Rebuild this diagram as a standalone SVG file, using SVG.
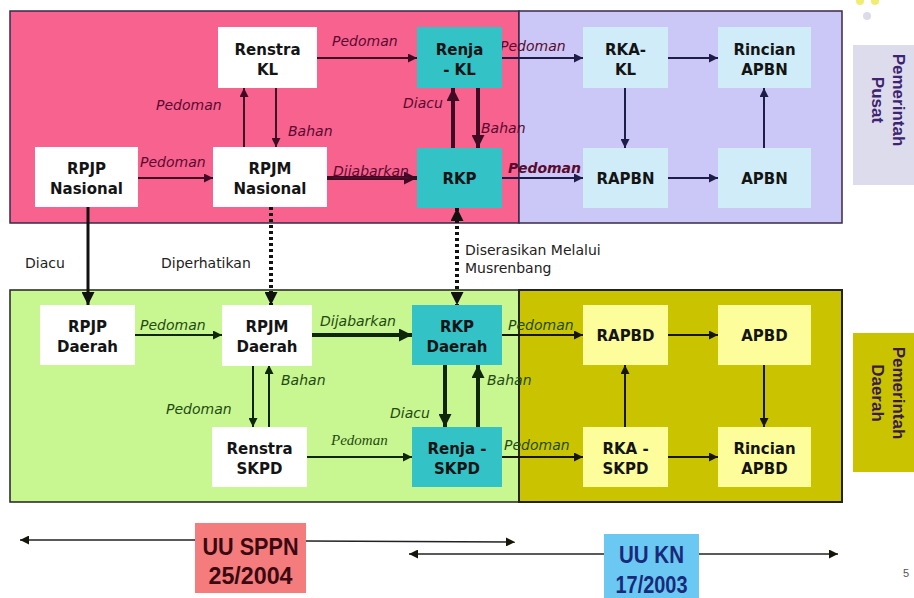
<svg xmlns="http://www.w3.org/2000/svg" width="914" height="598" viewBox="0 0 914 598">
<defs>
<style>
.nd{font-family:"DejaVu Sans","Verdana",sans-serif;font-weight:bold;font-size:15px;fill:#141414;text-anchor:middle}
.lbm{font-family:"DejaVu Sans",sans-serif;font-style:italic;font-size:14px;fill:#5a0a2e}
.lbg{font-family:"DejaVu Sans",sans-serif;font-style:italic;font-size:14px;fill:#1f4a12}
.lbn{font-family:"DejaVu Sans",sans-serif;font-size:14px;fill:#222}
.w{fill:#ffffff}
.t{fill:#33c2c6}
.b{fill:#d0ecf8}
.y{fill:#fdfd9c}
.cm{stroke:#3e0b22;fill:none}
.cn{stroke:#1e1c48;fill:none}
.cg{stroke:#0e260a;fill:none}
.ck{stroke:#161608;fill:none}
.th{stroke-width:2}
.tk{stroke-width:4}
.dt{stroke:#111;stroke-width:4;stroke-dasharray:3 3;fill:none}
.vt{font-family:"Liberation Sans",Arial,sans-serif;font-weight:bold;font-size:17px;text-anchor:middle}
</style>
<marker id="hm" viewBox="0 0 10 10" refX="10" refY="5" markerUnits="userSpaceOnUse" markerWidth="10" markerHeight="9" orient="auto-start-reverse"><path d="M0,0L10,5L0,10z" fill="#3e0b22"/></marker>
<marker id="hmk" viewBox="0 0 10 10" refX="10" refY="5" markerUnits="userSpaceOnUse" markerWidth="13" markerHeight="13" orient="auto-start-reverse"><path d="M0,0L10,5L0,10z" fill="#3e0b22"/></marker>
<marker id="hn" viewBox="0 0 10 10" refX="10" refY="5" markerUnits="userSpaceOnUse" markerWidth="10" markerHeight="9" orient="auto-start-reverse"><path d="M0,0L10,5L0,10z" fill="#1e1c48"/></marker>
<marker id="hg" viewBox="0 0 10 10" refX="10" refY="5" markerUnits="userSpaceOnUse" markerWidth="10" markerHeight="9" orient="auto-start-reverse"><path d="M0,0L10,5L0,10z" fill="#0e260a"/></marker>
<marker id="hgk" viewBox="0 0 10 10" refX="10" refY="5" markerUnits="userSpaceOnUse" markerWidth="13" markerHeight="13" orient="auto-start-reverse"><path d="M0,0L10,5L0,10z" fill="#0e260a"/></marker>
<marker id="hk" viewBox="0 0 10 10" refX="10" refY="5" markerUnits="userSpaceOnUse" markerWidth="10" markerHeight="9" orient="auto-start-reverse"><path d="M0,0L10,5L0,10z" fill="#161608"/></marker>
<marker id="hkk" viewBox="0 0 10 10" refX="10" refY="5" markerUnits="userSpaceOnUse" markerWidth="13" markerHeight="13" orient="auto-start-reverse"><path d="M0,0L10,5L0,10z" fill="#111"/></marker>
</defs>
<rect width="914" height="598" fill="#ffffff"/>

<g id="decor">
<circle cx="860" cy="1" r="4" fill="#f0ee70"/>
<circle cx="875" cy="1" r="4" fill="#f0ee70"/>
<circle cx="867" cy="16" r="4" fill="#dcdce6"/>
</g>

<g id="regions">
<rect x="10" y="11" width="509" height="212" fill="#f7628f" stroke="#3a2a4a" stroke-width="1.5"/>
<rect x="519" y="11" width="323" height="212" fill="#cbc7f6" stroke="#3a2a4a" stroke-width="1.5"/>
<rect x="10" y="290" width="509" height="212" fill="#c8f690" stroke="#222" stroke-width="1.5"/>
<rect x="519" y="290" width="323" height="212" fill="#cac400" stroke="#222" stroke-width="2"/>
</g>

<g id="side-pusat">
<rect x="853" y="45" width="61" height="140" fill="#dddcec"/>
<g transform="translate(890,100) rotate(90)">
<text class="vt" x="0" y="-3" fill="#3e2470">Pemerintah</text>
<text class="vt" x="0" y="18" fill="#3e2470">Pusat</text>
</g>
</g>
<g id="side-daerah">
<rect x="853" y="333" width="61" height="139" fill="#cac400"/>
<g transform="translate(890,393) rotate(90)">
<text class="vt" x="0" y="-3" fill="#3a1a4a">Pemerintah</text>
<text class="vt" x="0" y="18" fill="#3a1a4a">Daerah</text>
</g>
</g>

<g id="connectors">
<line class="cm th" x1="317" y1="58" x2="417" y2="58" marker-end="url(#hm)"/>
<line class="cm th" x1="244" y1="147" x2="244" y2="88" marker-end="url(#hm)"/>
<line class="cm th" x1="276" y1="88" x2="276" y2="147" marker-end="url(#hm)"/>
<line class="cm th" x1="138" y1="178" x2="213" y2="178" marker-end="url(#hm)"/>
<line class="cm tk" x1="327" y1="178" x2="417" y2="178" marker-end="url(#hmk)"/>
<line class="cm tk" x1="453" y1="148" x2="453" y2="88" marker-end="url(#hmk)"/>
<line class="cm tk" x1="478" y1="88" x2="478" y2="148" marker-end="url(#hmk)"/>
<line class="cn th" x1="502" y1="58" x2="583" y2="58" marker-end="url(#hn)"/>
<line class="cn th" x1="502" y1="178" x2="583" y2="178" marker-end="url(#hn)"/>
<line class="cn th" x1="668" y1="58" x2="718" y2="58" marker-end="url(#hn)"/>
<line class="cn th" x1="625" y1="88" x2="625" y2="148" marker-end="url(#hn)"/>
<line class="cn th" x1="668" y1="178" x2="718" y2="178" marker-end="url(#hn)"/>
<line class="cn th" x1="764" y1="148" x2="764" y2="88" marker-end="url(#hn)"/>
<line stroke="#111" stroke-width="3" x1="88" y1="207" x2="88" y2="305" marker-end="url(#hkk)"/>
<line class="dt" x1="271" y1="207" x2="271" y2="305" marker-end="url(#hkk)"/>
<line class="dt" x1="457" y1="208" x2="457" y2="305" marker-start="url(#hkk)" marker-end="url(#hkk)"/>
<line class="cg th" x1="135" y1="335" x2="222" y2="335" marker-end="url(#hg)"/>
<line class="cg tk" x1="312" y1="335" x2="412" y2="335" marker-end="url(#hgk)"/>
<line class="cg th" x1="253" y1="365" x2="253" y2="427" marker-end="url(#hg)"/>
<line class="cg th" x1="269" y1="427" x2="269" y2="365" marker-end="url(#hg)"/>
<line class="cg tk" x1="445" y1="365" x2="445" y2="427" marker-end="url(#hgk)"/>
<line class="cg tk" x1="478" y1="427" x2="478" y2="365" marker-end="url(#hgk)"/>
<line class="cg th" x1="307" y1="457" x2="412" y2="457" marker-end="url(#hg)"/>
<line class="ck th" x1="502" y1="335" x2="583" y2="335" marker-end="url(#hk)"/>
<line class="ck th" x1="502" y1="457" x2="583" y2="457" marker-end="url(#hk)"/>
<line class="ck th" x1="668" y1="335" x2="718" y2="335" marker-end="url(#hk)"/>
<line class="ck th" x1="625" y1="427" x2="625" y2="365" marker-end="url(#hk)"/>
<line class="ck th" x1="764" y1="365" x2="764" y2="427" marker-end="url(#hk)"/>
<line class="ck th" x1="668" y1="457" x2="718" y2="457" marker-end="url(#hk)"/>
<line stroke="#222" stroke-width="1.5" x1="195" y1="540" x2="20" y2="540" marker-end="url(#hk)"/>
<line stroke="#222" stroke-width="1.5" x1="306" y1="541" x2="515" y2="542" marker-end="url(#hk)"/>
<line stroke="#222" stroke-width="1.5" x1="604" y1="554" x2="409" y2="554" marker-end="url(#hk)"/>
<line stroke="#222" stroke-width="1.5" x1="699" y1="554" x2="838" y2="554" marker-end="url(#hk)"/>
</g>

<g id="labels">
<text class="lbm" x="332" y="46" font-size="12.5">Pedoman</text>
<text class="lbm" x="156" y="110" font-size="15.5">Pedoman</text>
<text class="lbm" x="288" y="136">Bahan</text>
<text class="lbm" x="140" y="167" font-size="15.5">Pedoman</text>
<text class="lbm" x="333" y="176" font-size="15.5" text-decoration="underline">Dijabarkan</text>
<text class="lbm" x="403" y="108" font-size="15.5">Diacu</text>
<text class="lbm" x="481" y="133">Bahan</text>
<text class="lbm" x="500" y="51" font-size="15">Pedoman</text>
<text class="lbm" x="508" y="173" font-size="15.5" font-weight="bold" fill="#4a0a2a">Pedoman</text>
<text class="lbn" x="25" y="268">Diacu</text>
<text class="lbn" x="161" y="268">Diperhatikan</text>
<text class="lbn" x="465" y="255">Diserasikan Melalui</text>
<text class="lbn" x="465" y="273">Musrenbang</text>
<text class="lbg" x="140" y="330" font-size="15.5">Pedoman</text>
<text class="lbg" x="320" y="326" font-size="15.5">Dijabarkan</text>
<text class="lbg" x="166" y="414" font-size="15.5">Pedoman</text>
<text class="lbg" x="281" y="385">Bahan</text>
<text class="lbg" x="390" y="418" font-size="15.5">Diacu</text>
<text class="lbg" x="487" y="385">Bahan</text>
<text x="331" y="445" font-family="'Liberation Serif','Times New Roman',serif" font-style="italic" font-size="15" fill="#1f4a12">Pedoman</text>
<text class="lbg" x="508" y="330" font-size="15.5">Pedoman</text>
<text class="lbg" x="504" y="450" font-size="15.5">Pedoman</text>
</g>

<g id="n-renstra-kl"><rect class="w" x="218" y="27" width="99" height="61"/><text class="nd" x="267.5" y="55">Renstra</text><text class="nd" x="267.5" y="75">KL</text></g>
<g id="n-renja-kl"><rect class="t" x="417" y="27" width="85" height="61"/><text class="nd" x="459.5" y="55">Renja</text><text class="nd" x="459.5" y="75">- KL</text></g>
<g id="n-rka-kl"><rect class="b" x="583" y="27" width="85" height="61"/><text class="nd" x="625.5" y="55">RKA-</text><text class="nd" x="625.5" y="75">KL</text></g>
<g id="n-rincian-apbn"><rect class="b" x="718" y="27" width="93" height="61"/><text class="nd" x="764.5" y="55">Rincian</text><text class="nd" x="764.5" y="75">APBN</text></g>
<g id="n-rpjp-nas"><rect class="w" x="35" y="147" width="103" height="60"/><text class="nd" x="86.5" y="174">RPJP</text><text class="nd" x="86.5" y="194">Nasional</text></g>
<g id="n-rpjm-nas"><rect class="w" x="213" y="147" width="114" height="60"/><text class="nd" x="270" y="174">RPJM</text><text class="nd" x="270" y="194">Nasional</text></g>
<g id="n-rkp"><rect class="t" x="417" y="148" width="85" height="60"/><text class="nd" x="459.5" y="184">RKP</text></g>
<g id="n-rapbn"><rect class="b" x="583" y="148" width="85" height="60"/><text class="nd" x="625.5" y="184">RAPBN</text></g>
<g id="n-apbn"><rect class="b" x="718" y="148" width="93" height="60"/><text class="nd" x="764.5" y="184">APBN</text></g>

<g id="n-rpjp-daerah"><rect class="w" x="40" y="305" width="95" height="60"/><text class="nd" x="87.5" y="332">RPJP</text><text class="nd" x="87.5" y="352">Daerah</text></g>
<g id="n-rpjm-daerah"><rect class="w" x="222" y="305" width="90" height="61"/><text class="nd" x="267" y="332">RPJM</text><text class="nd" x="267" y="352">Daerah</text></g>
<g id="n-rkp-daerah"><rect class="t" x="412" y="305" width="90" height="60"/><text class="nd" x="457" y="332">RKP</text><text class="nd" x="457" y="352">Daerah</text></g>
<g id="n-rapbd"><rect class="y" x="583" y="305" width="85" height="60"/><text class="nd" x="625.5" y="341">RAPBD</text></g>
<g id="n-apbd"><rect class="y" x="718" y="305" width="93" height="60"/><text class="nd" x="764.5" y="341">APBD</text></g>
<g id="n-renstra-skpd"><rect class="w" x="212" y="427" width="95" height="60"/><text class="nd" x="259.5" y="454">Renstra</text><text class="nd" x="259.5" y="474">SKPD</text></g>
<g id="n-renja-skpd"><rect class="t" x="412" y="427" width="90" height="60"/><text class="nd" x="457" y="454">Renja -</text><text class="nd" x="457" y="474">SKPD</text></g>
<g id="n-rka-skpd"><rect class="y" x="583" y="427" width="85" height="60"/><text class="nd" x="625.5" y="454">RKA -</text><text class="nd" x="625.5" y="474">SKPD</text></g>
<g id="n-rincian-apbd"><rect class="y" x="718" y="427" width="93" height="60"/><text class="nd" x="764.5" y="454">Rincian</text><text class="nd" x="764.5" y="474">APBD</text></g>

<g id="n-uu-sppn"><rect x="195" y="523" width="111" height="70" fill="#f47c7c"/>
<text x="250.5" y="555" font-family="'Liberation Sans',Arial,sans-serif" font-weight="bold" font-size="23" fill="#3a0a10" text-anchor="middle" textLength="96" lengthAdjust="spacingAndGlyphs">UU SPPN</text>
<text x="250.5" y="584" font-family="'Liberation Sans',Arial,sans-serif" font-weight="bold" font-size="23" fill="#3a0a10" text-anchor="middle" textLength="84" lengthAdjust="spacingAndGlyphs">25/2004</text></g>
<g id="n-uu-kn"><rect x="604" y="534" width="95" height="70" fill="#6ac8f2"/>
<text x="651.5" y="563" font-family="'Liberation Sans',Arial,sans-serif" font-weight="bold" font-size="23" fill="#1a2a7a" text-anchor="middle" textLength="65" lengthAdjust="spacingAndGlyphs">UU KN</text>
<text x="651.5" y="593" font-family="'Liberation Sans',Arial,sans-serif" font-weight="bold" font-size="23" fill="#1a2a7a" text-anchor="middle" textLength="72" lengthAdjust="spacingAndGlyphs">17/2003</text></g>

<text x="903" y="577" font-family="'Liberation Sans',Arial,sans-serif" font-size="11" fill="#555">5</text>
</svg>
